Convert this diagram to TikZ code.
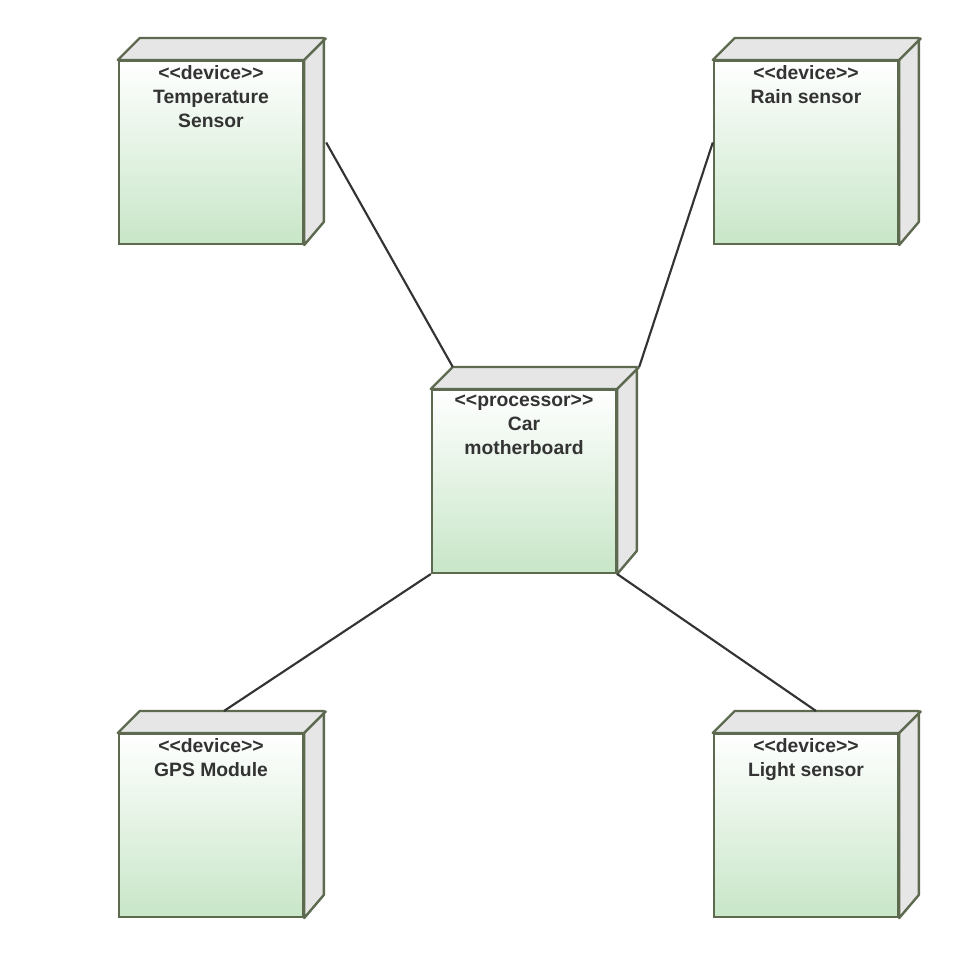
\documentclass[tikz,border=0pt]{standalone}
\usepackage{fontspec}
\setmainfont{Liberation Sans}
\usetikzlibrary{calc}
\definecolor{edgegreen}{HTML}{5E6A50}
\definecolor{facegreen}{HTML}{C8E6C8}
\definecolor{sidegrey}{HTML}{E6E6E6}
\definecolor{linkgrey}{HTML}{333333}
\newcommand{\stereo}[1]{{<}{<}#1{>}{>}}
\tikzset{
  box/.style={draw=edgegreen,line width=1.8pt,top color=white,bottom color=facegreen,
    minimum width=138pt,minimum height=137pt,inner sep=0pt},
  side/.style={draw=edgegreen,line width=1.8pt,fill=sidegrey,line join=round},
  link/.style={draw=linkgrey,line width=1.6pt},
  lbl/.style={font=\fontsize{14.5}{18}\selectfont\bfseries,text=linkgrey,align=center,anchor=north}
}
\begin{document}
\begin{tikzpicture}[x=0.75pt,y=-0.75pt]
  \useasboundingbox (0,0) rectangle (958,955);

  % nodes
  \node[box] (temp) at (211,152.5) {};
  \node[box] (rain) at (806,152.5) {};
  \node[box] (board) at (524,481.5) {};
  \node[box] (gps) at (211,825.5) {};
  \node[box] (light) at (806,825.5) {};

  % 3d faces
  \foreach \n in {temp,rain,board,gps,light}{
    \draw[side] (\n.north west) -- ++(22,-22) -- ++(184,0) -- ++(0,184) -- (\n.south east) -- (\n.north east) -- cycle;
    \draw[side] (\n.north east) -- ++(22,-22);
  }

  % texts
  \node[lbl] at ($(temp.north)+(0,1)$) {\stereo{device}\\Temperature\\Sensor};
  \node[lbl] at ($(rain.north)+(0,1)$) {\stereo{device}\\Rain sensor};
  \node[lbl] at ($(board.north)+(0,1)$) {\stereo{processor}\\Car\\motherboard};
  \node[lbl] at ($(gps.north)+(0,1)$) {\stereo{device}\\GPS Module};
  \node[lbl] at ($(light.north)+(0,1)$) {\stereo{device}\\Light sensor};

  % links
  \draw[link] ($(temp.east)+(22,-10)$) -- ($(board.north west)+(22,-22)$);
  \draw[link] ($(rain.west)+(0,-10)$) -- ($(board.north east)+(22,-22)$);
  \draw[link] ($(gps.north)+(13,-22)$) -- (board.south west);
  \draw[link] ($(light.north)+(10,-22)$) -- (board.south east);
\end{tikzpicture}
\end{document}
